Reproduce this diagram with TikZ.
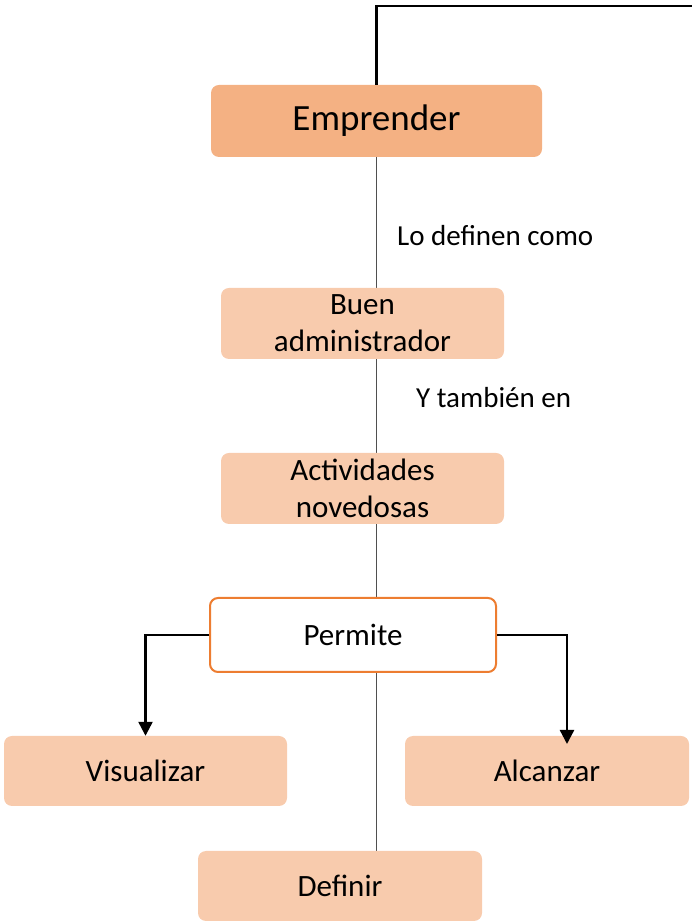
\documentclass[tikz,border=0pt]{standalone}
\usepackage{fontspec}
\setmainfont{Carlito}
\usetikzlibrary{arrows.meta,backgrounds}
\definecolor{empfill}{HTML}{F4B183}
\definecolor{boxfill}{HTML}{F8CBAD}
\definecolor{orangeline}{HTML}{ED7D31}
\definecolor{grayline}{HTML}{4F4F4F}
\tikzset{
  box/.style={rectangle, rounded corners=8pt, fill=boxfill, draw=none, align=center,
    inner sep=0pt, font=\fontsize{31}{37}\selectfont},
  lbl/.style={anchor=west, inner sep=0pt, font=\fontsize{29}{34}\selectfont},
  conn/.style={draw=grayline, line width=1.6pt},
  arr/.style={draw=black, line width=2.4pt, -{Triangle[width=14pt,length=14pt]}},
}
\begin{document}
\begin{tikzpicture}[x=1pt,y=1pt]
\useasboundingbox (0,0) rectangle (692,923);
\node[box, fill=empfill, minimum width=331pt, minimum height=72pt, font=\fontsize{37}{44}\selectfont] (emp) at (376.5,802) {Emprender};
\node[box, minimum width=283pt, minimum height=71pt] (buen) at (362.5,599.5) {Buen\\administrador};
\node[box, minimum width=283pt, minimum height=71pt] (act) at (362.5,434.5) {Actividades\\novedosas};
\node[box, fill=white, draw=orangeline, line width=2pt, minimum width=286pt, minimum height=74pt] (perm) at (353,288) {Permite};
\node[box, minimum width=283pt, minimum height=70pt] (vis) at (145.5,152) {Visualizar};
\node[box, minimum width=284pt, minimum height=70pt] (alc) at (547,152) {Alcanzar};
\node[box, minimum width=284pt, minimum height=70pt] (def) at (340,37) {Definir};
\node[lbl] (l1) at (397,687) {Lo definen como};
\node[lbl] (l2) at (416,525) {Y también en};
\coordinate (topend) at (692,917);
\coordinate (alctip) at (567,179);
\begin{pgfonlayer}{background}
\draw[conn] (emp.south) -- (emp.south |- def.north);
\end{pgfonlayer}
\draw[line width=2.8pt] (emp.north) |- (topend);
\draw[arr] (perm.west) -| (vis.north);
\draw[arr] (perm.east) -| (alctip);
\end{tikzpicture}
\end{document}
